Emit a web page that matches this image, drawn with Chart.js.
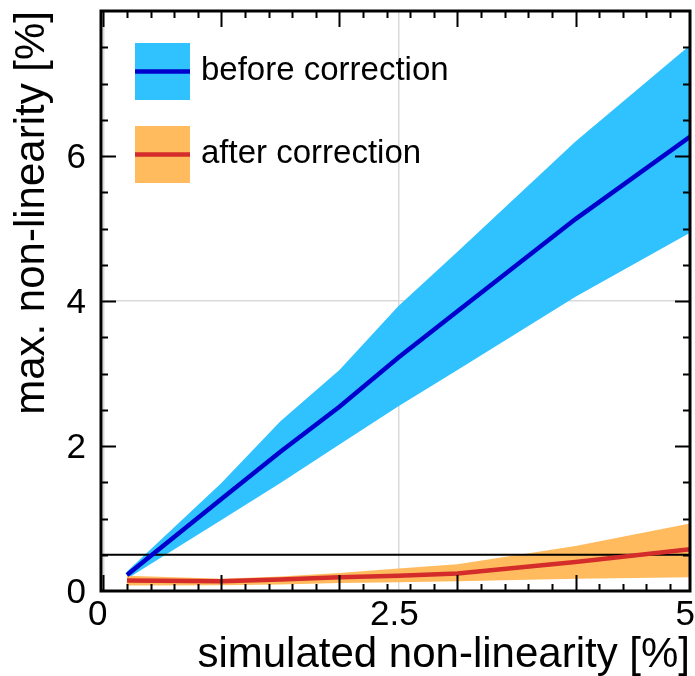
<!DOCTYPE html>
<html>
<head>
<meta charset="utf-8">
<script src="https://cdn.jsdelivr.net/npm/chart.js@4.4.1/dist/chart.umd.min.js"></script>
<style>
  html, body { margin: 0; padding: 0; background: #fff; }
  canvas { display: block; }
</style>
</head>
<body>
<canvas id="nlChart" width="695" height="676"></canvas>
<script>
// simulated non-linearity [%]
const simulatedNL = [0.2, 1, 1.5, 2, 2.5, 3, 4, 5];
// before correction: mean and band
const beforeMean = [0.22, 1.27, 1.92, 2.54, 3.22, 3.86, 5.13, 6.3];
const beforeHigh = [0.27, 1.49, 2.34, 3.05, 3.93, 4.68, 6.2, 7.57];
const beforeLow = [0.17, 0.98, 1.49, 2.02, 2.55, 3.05, 4.06, 4.97];
// after correction: mean and band
const afterMean = [0.145, 0.135, 0.16, 0.19, 0.21, 0.24, 0.4, 0.58];
const afterHigh = [0.21, 0.17, 0.2, 0.25, 0.31, 0.37, 0.62, 0.94];
const afterLow = [0.075, 0.08, 0.09, 0.11, 0.12, 0.135, 0.17, 0.19];
// 0.5 % reference level
const thresholdLevel = 0.5;

const legendLabels = ["before correction", "after correction"];
const xTickLabels = [0, 2.5, 5];
const yTickLabels = [0, 2, 4, 6];
const xGridLines = [0, 2.5];
const yGridLines = [4];

const FONT = "'Liberation Sans', Arial, Helvetica, sans-serif";
const BLUE_FILL = "#30c1ff";
const BLUE_LINE = "#0000cc";
const ORANGE_FILL = "#ffbb5e";
const RED_LINE = "#d42b2b";

const xMin = -0.02, xMax = 4.97, yMin = 0, yMax = 8;

function pts(ys) {
  return simulatedNL.map((x, i) => ({ x: x, y: ys[i] }));
}

// inward ticks, frame, tick labels and legend
const framePlugin = {
  id: "frame",
  afterDraw(chart) {
    const { ctx, chartArea: a, scales } = chart;
    const x = scales.x, y = scales.y;
    ctx.save();
    ctx.strokeStyle = "#000";
    ctx.lineWidth = 2;
    ctx.beginPath();
    for (let i = 0; i <= 24; i++) {
      const v = i * 0.2;
      const major = Math.abs(v - Math.round(v)) < 1e-6;
      const len = major ? 16 : 7;
      const px = Math.round(x.getPixelForValue(v)) + 0.5;
      ctx.moveTo(px, a.bottom); ctx.lineTo(px, a.bottom - len);
      ctx.moveTo(px, a.top); ctx.lineTo(px, a.top + len);
    }
    for (let i = 1; i <= 15; i++) {
      const v = i * 0.5;
      const major = v % 2 === 0;
      const len = major ? 15 : 7;
      const py = Math.round(y.getPixelForValue(v)) + 0.5;
      ctx.moveTo(a.left, py); ctx.lineTo(a.left + len, py);
      ctx.moveTo(a.right, py); ctx.lineTo(a.right - len, py);
    }
    ctx.stroke();

    ctx.lineWidth = 3;
    ctx.strokeRect(a.left, a.top, a.right - a.left, a.bottom - a.top);

    // tick labels
    ctx.fillStyle = "#000";
    ctx.font = "35px " + FONT;
    ctx.textBaseline = "alphabetic";
    xTickLabels.forEach((v, i) => {
      const px = x.getPixelForValue(v);
      if (i === 0) { ctx.textAlign = "right"; ctx.fillText(String(v), px + 4, a.bottom + 34); }
      else if (i === xTickLabels.length - 1) { ctx.textAlign = "right"; ctx.fillText(String(v), a.right + 5, a.bottom + 34); }
      else { ctx.textAlign = "center"; ctx.fillText(String(v), px - 4, a.bottom + 34); }
    });
    ctx.textAlign = "right";
    yTickLabels.forEach((v) => {
      const py = y.getPixelForValue(v);
      ctx.fillText(String(v), a.left - 15, py + 12);
    });

    // legend
    const fills = [BLUE_FILL, ORANGE_FILL];
    const lines = [BLUE_LINE, RED_LINE];
    const bx = a.left + 34;
    legendLabels.forEach((label, i) => {
      const by = a.top + 32 + i * 83;
      ctx.fillStyle = fills[i];
      ctx.fillRect(bx, by, 55, 57);
      ctx.strokeStyle = lines[i];
      ctx.lineWidth = 4.5;
      ctx.beginPath();
      ctx.moveTo(bx, by + 28.5); ctx.lineTo(bx + 55, by + 28.5);
      ctx.stroke();
      ctx.fillStyle = "#000";
      ctx.font = "33px " + FONT;
      ctx.textAlign = "left";
      ctx.fillText(label, bx + 66, by + 37);
    });
    ctx.restore();
  }
};

const ctx = document.getElementById("nlChart").getContext("2d");
new Chart(ctx, {
  type: "line",
  data: {
    datasets: [
      { data: pts(afterMean), borderColor: RED_LINE, borderWidth: 4.5, pointRadius: 0, fill: false },
      { data: pts(beforeMean), borderColor: BLUE_LINE, borderWidth: 4.5, pointRadius: 0, fill: false },
      {
        data: [{ x: xMin, y: thresholdLevel }, { x: xMax, y: thresholdLevel }],
        borderColor: "#000", borderWidth: 2, pointRadius: 0, fill: false
      },
      { data: pts(afterHigh), borderWidth: 0, borderColor: "rgba(0,0,0,0)", backgroundColor: ORANGE_FILL, pointRadius: 0, fill: "+1" },
      { data: pts(afterLow), borderWidth: 0, borderColor: "rgba(0,0,0,0)", pointRadius: 0, fill: false },
      { data: pts(beforeHigh), borderWidth: 0, borderColor: "rgba(0,0,0,0)", backgroundColor: BLUE_FILL, pointRadius: 0, fill: "+1" },
      { data: pts(beforeLow), borderWidth: 0, borderColor: "rgba(0,0,0,0)", pointRadius: 0, fill: false }
    ]
  },
  options: {
    responsive: false,
    animation: false,
    devicePixelRatio: 1,
    layout: { padding: { top: 11, right: 5, left: 0, bottom: 0 } },
    plugins: { legend: { display: false }, tooltip: { enabled: false } },
    scales: {
      x: {
        type: "linear",
        min: xMin,
        max: xMax,
        afterBuildTicks: (s) => { s.ticks = xGridLines.map((v) => ({ value: v })); },
        afterFit: (s) => { s.height = 85; },
        ticks: { display: false },
        border: { display: false },
        grid: { color: "#d9d9d9", lineWidth: 1.5, drawTicks: false },
        title: {
          display: true,
          text: "simulated non-linearity [%]",
          align: "end",
          color: "#000",
          padding: 0,
          font: { size: 42, family: FONT, lineHeight: 1 }
        }
      },
      y: {
        min: yMin,
        max: yMax,
        afterBuildTicks: (s) => { s.ticks = yGridLines.map((v) => ({ value: v })); },
        afterFit: (s) => { s.width = 101; },
        ticks: { display: false },
        border: { display: false },
        grid: { color: "#d9d9d9", lineWidth: 1.5, drawTicks: false },
        title: {
          display: true,
          text: "max. non-linearity [%]",
          align: "end",
          color: "#000",
          padding: { top: 7, bottom: 0 },
          font: { size: 42, family: FONT }
        }
      }
    }
  },
  plugins: [framePlugin]
});
</script>
</body>
</html>
